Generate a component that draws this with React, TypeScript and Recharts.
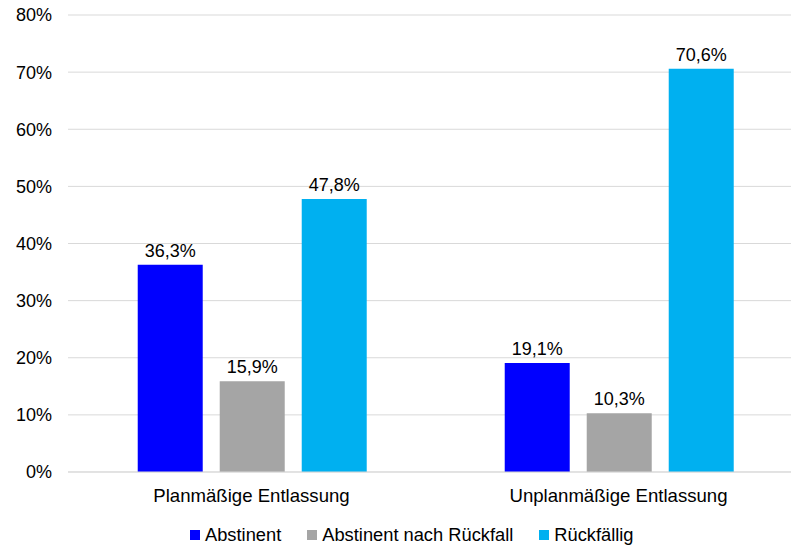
import React from "react";
import { BarChart, Bar, XAxis, YAxis, CartesianGrid, Legend, LabelList } from "recharts";

const categories = ["Planmäßige Entlassung", "Unplanmäßige Entlassung"];
const abstinent = [36.3, 19.1];
const abstinentNachRueckfall = [15.9, 10.3];
const rueckfaellig = [47.8, 70.6];
const yTicks = [0, 10, 20, 30, 40, 50, 60, 70, 80];

const seriesNames = ["Abstinent", "Abstinent nach Rückfall", "Rückfällig"];
const colors = ["#0000FF", "#A5A5A5", "#00B0F0"];

const data = categories.map((c, i) => ({
  name: c,
  a: abstinent[i],
  b: abstinentNachRueckfall[i],
  c: rueckfaellig[i],
}));

const FONT = "'Liberation Sans', Arial, sans-serif";
const fmt = (v: number) => v.toFixed(1).replace(".", ",") + "%";

const XTick = (props: any) => {
  const { x, y, payload } = props;
  return (
    <text x={x} y={y} dy={22} textAnchor="middle" fontFamily={FONT} fontSize={18.6} fill="#000">
      {payload.value}
    </text>
  );
};

const LegendContent = () => (
  <div style={{ display: "flex", alignItems: "center", paddingLeft: 190, fontFamily: FONT, fontSize: 18.3, color: "#000", height: 22 }}>
    {seriesNames.map((n, i) => (
      <div key={n} style={{ display: "flex", alignItems: "center", marginRight: 26 }}>
        <span style={{ display: "inline-block", width: 10, height: 10, background: colors[i], marginRight: 5 }} />
        <span>{n}</span>
      </div>
    ))}
  </div>
);

export default function App() {
  return (
    <div style={{ position: "absolute", left: 0, top: 0, width: 791, height: 546, overflow: "hidden", background: "#fff" }}>
      <BarChart
        width={802}
        height={546}
        data={data}
        margin={{ top: 15, right: 0, left: 0, bottom: 0 }}
        barCategoryGap="19%"
        barGap={17}
      >
        <CartesianGrid vertical={false} stroke="#D9D9D9" />
        <XAxis
          dataKey="name"
          tick={<XTick />}
          tickLine={false}
          axisLine={{ stroke: "#D9D9D9" }}
          height={52}
          interval={0}
        />
        <YAxis
          width={68}
          domain={[0, 80]}
          ticks={yTicks}
          tickFormatter={(v: number) => v + "%"}
          tickLine={false}
          axisLine={false}
          tickSize={0}
          tickMargin={16}
          tick={{ fontFamily: FONT, fontSize: 18, fill: "#000" }}
        />
        <Legend verticalAlign="bottom" content={<LegendContent />} />
        {(["a", "b", "c"] as const).map((k, i) => (
          <Bar key={k} dataKey={k} name={seriesNames[i]} fill={colors[i]} isAnimationActive={false}>
            <LabelList
              dataKey={k}
              position="top"
              offset={8}
              formatter={(v: any) => fmt(Number(v))}
              style={{ fontFamily: FONT, fontSize: 18, fill: "#000" }}
            />
          </Bar>
        ))}
      </BarChart>
    </div>
  );
}
